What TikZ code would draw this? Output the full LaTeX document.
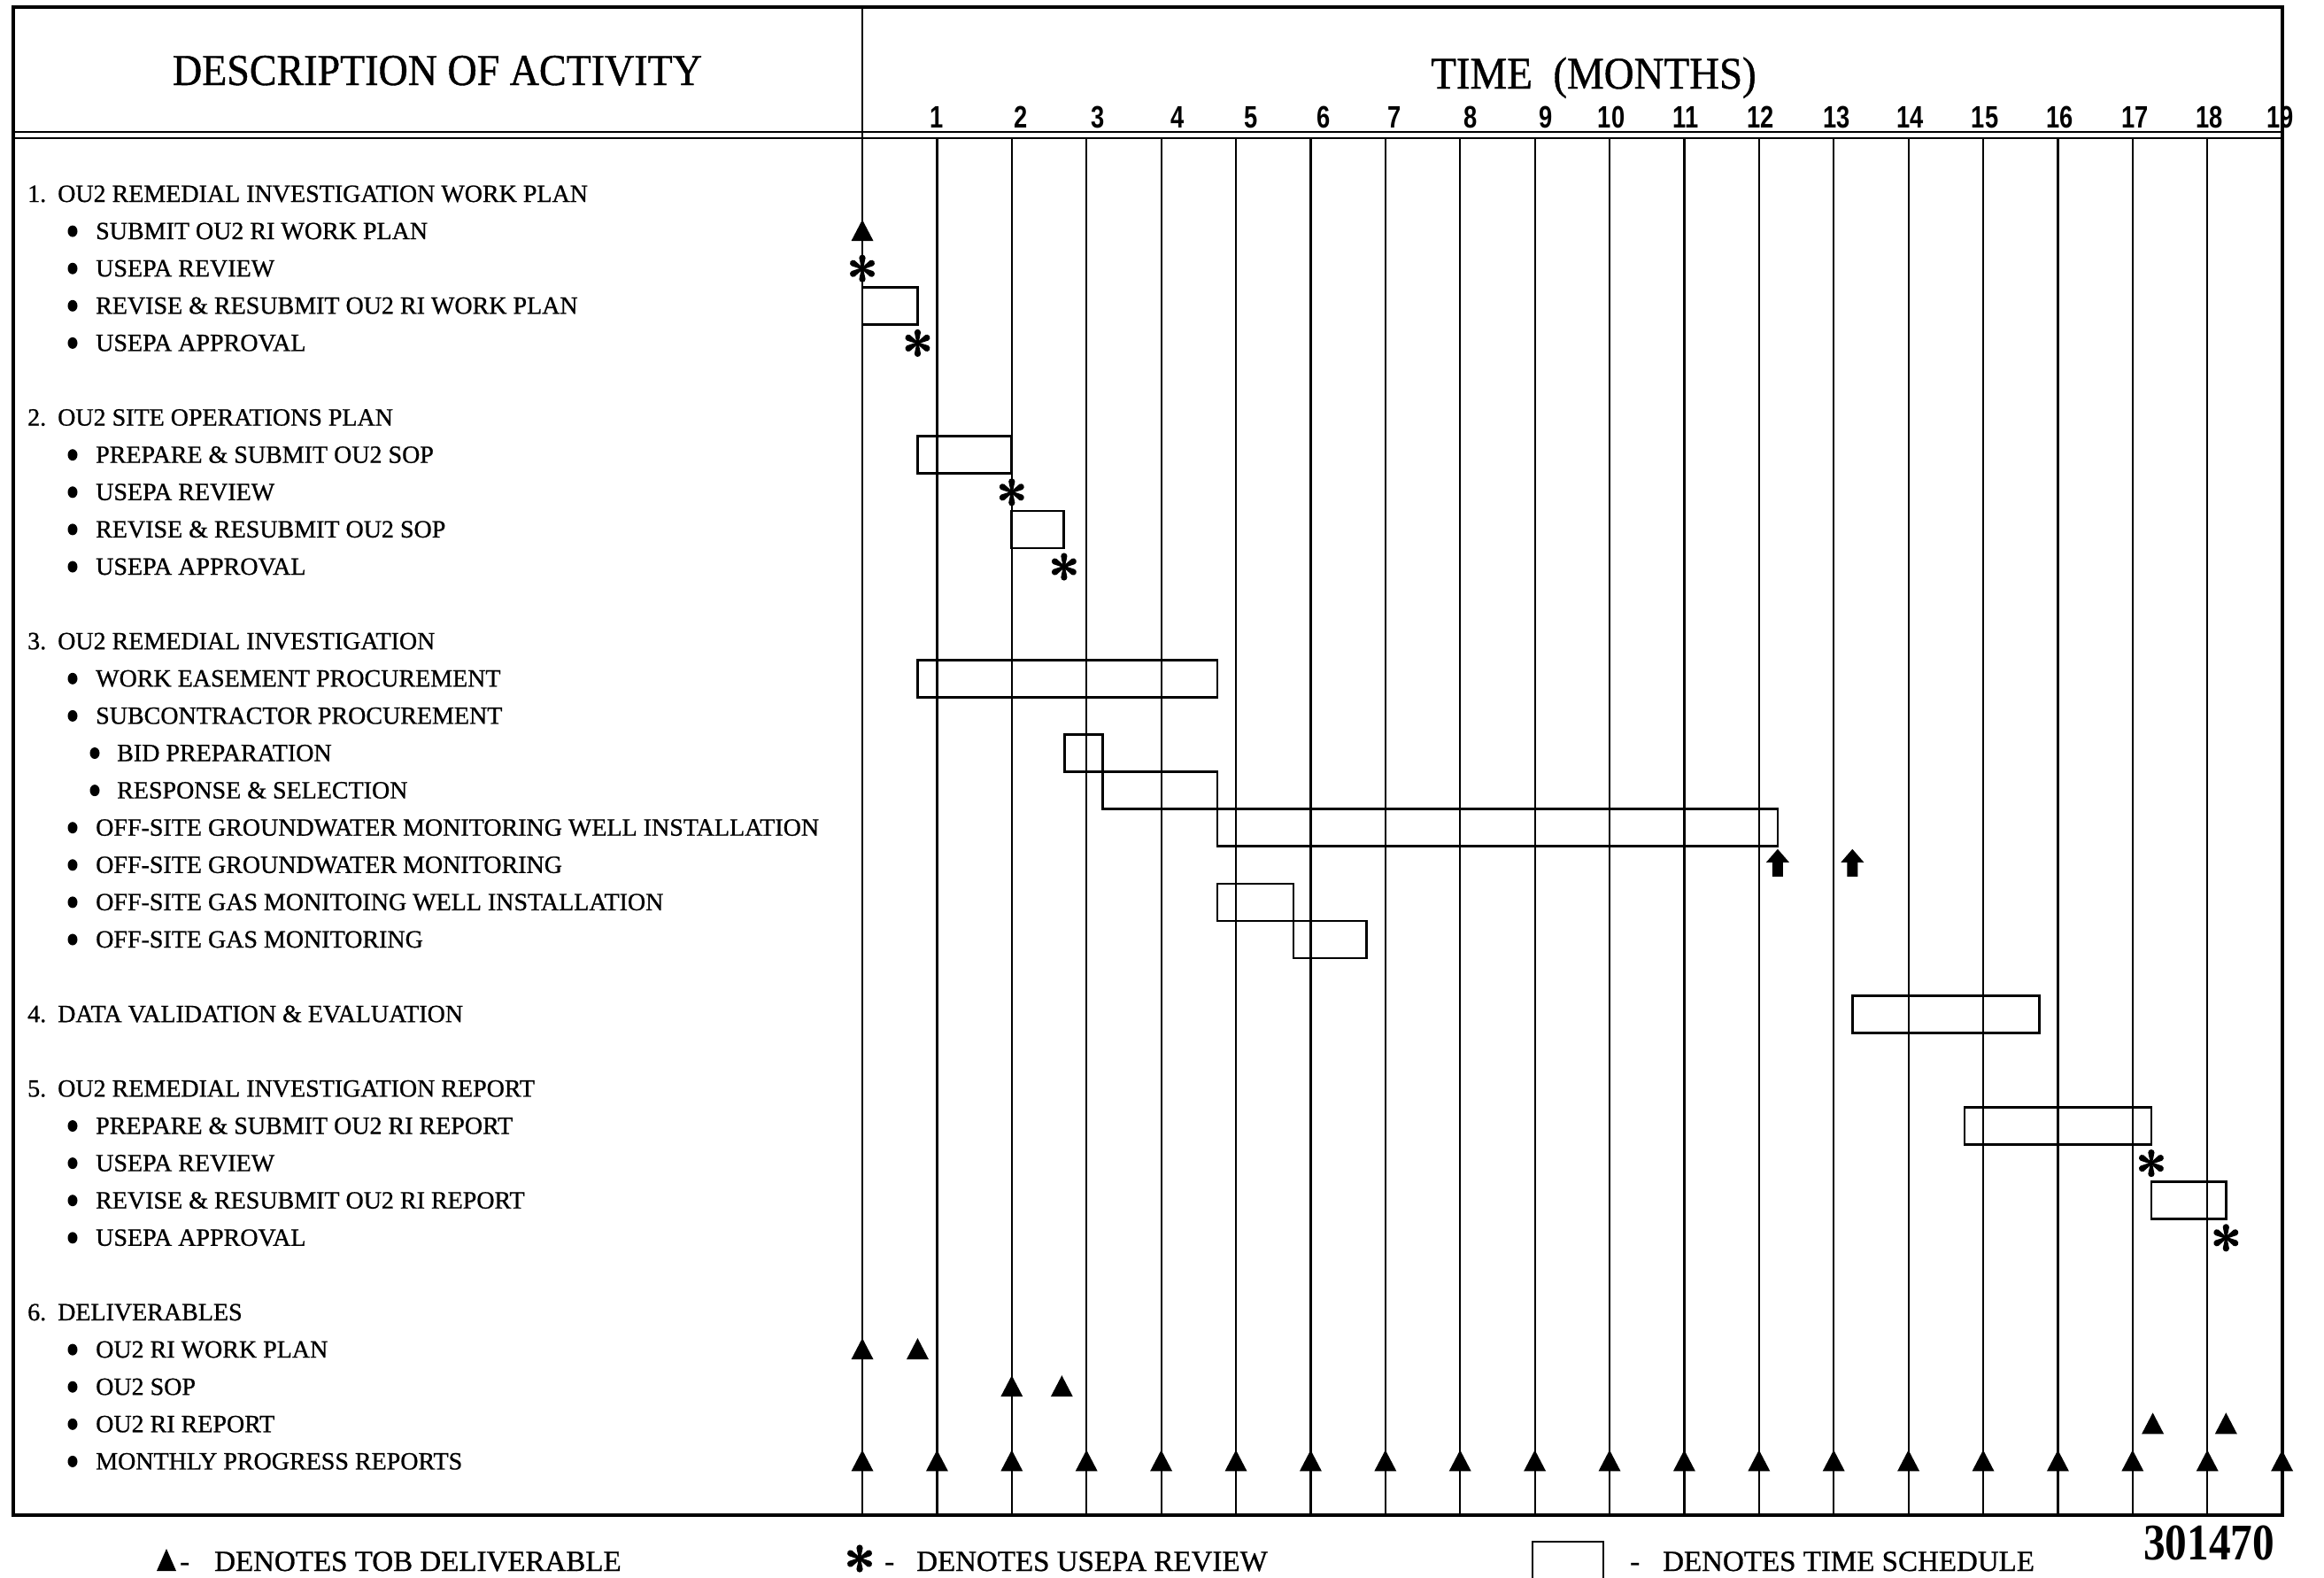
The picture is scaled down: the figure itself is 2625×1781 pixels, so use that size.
\documentclass[tikz,border=0pt]{standalone}
\usepackage{fontspec}
\setmainfont{Liberation Serif}[FakeBold=0.8]
\newfontfamily\hdfont[FakeStretch=0.92,FakeBold=0.8]{Liberation Serif}
\newfontfamily\numfont[FakeStretch=0.78]{Liberation Sans}
\newfontfamily\stampfont[FakeStretch=0.85]{Liberation Serif}
\newcommand\MX[1]{(974+84.4*(#1))}
\newcommand\RY[1]{(219+42.1*(#1))}
\newcommand\gbar[3]{\draw[bar] ({\MX{#1}},{\RY{#3}-21}) rectangle ({\MX{#2}},{\RY{#3}+21});}
\newcommand\dlv[2]{\fill ({\MX{#1}-12.5},{\RY{#2}+11}) -- ({\MX{#1}},{\RY{#2}-13}) -- ({\MX{#1}+12.5},{\RY{#2}+11}) -- cycle;}
\newcommand\starmark[2]{\begin{scope}[shift={(#1,#2)}]
  \foreach \aa in {30,90,...,330} {\fill[rotate=\aa] (0,-1.1) -- (12,-3.6) arc[start angle=-90,end angle=90,radius=3.6] -- (0,1.1) -- cycle;}
  \fill (0,0) circle (2.2);
\end{scope}}
\newcommand\rvw[2]{\starmark{{\MX{#1}}}{{\RY{#2}}}}
\newcommand\uparr[2]{\fill ({\MX{#1}-6},{\RY{#2}+13}) -- ({\MX{#1}-6},{\RY{#2}-3}) -- ({\MX{#1}-13},{\RY{#2}-3}) -- ({\MX{#1}},{\RY{#2}-18}) -- ({\MX{#1}+13},{\RY{#2}-3}) -- ({\MX{#1}+6},{\RY{#2}-3}) -- ({\MX{#1}+6},{\RY{#2}+13}) -- cycle;}
\begin{document}
\begin{tikzpicture}[x=1pt,y=-1pt,
  grid/.style={line width=2.2pt},
  frame/.style={line width=3.6pt},
  bar/.style={draw,line width=2.8pt},
  lbl/.style={anchor=base west,inner sep=0pt,font=\fontsize{28}{30}\selectfont},
  leg/.style={anchor=base west,inner sep=0pt,font=\fontsize{33}{36}\selectfont},
  mnum/.style={anchor=base,inner sep=0pt,font=\numfont\bfseries\fontsize{35}{37}\selectfont}]
\useasboundingbox (0,0) rectangle (2625,1781);
% grid
\foreach \k in {1,...,18} \draw[grid] ({\MX{\k}},156) -- ({\MX{\k}},1711);
\draw[line width=2.6pt] (974,8) -- (974,1711);
\draw[frame] (15,8) rectangle (2578,1711);
\draw[line width=2.6pt] (15,149) -- (2578,149);
\draw[line width=2.6pt] (15,156) -- (2578,156);
% headers
\node[anchor=base,inner sep=0pt,font=\hdfont\fontsize{50}{55}\selectfont] (hdesc) at (494,96) {DESCRIPTION OF ACTIVITY};
\node[anchor=base,inner sep=0pt,font=\hdfont\fontsize{51}{55}\selectfont] (htime) at (1800,100) {TIME~~(MONTHS)};
\foreach \k/\o in {1/0,2/10,3/13,4/18,5/17,6/15,7/10,8/12,9/12,10/2,11/2,12/2,13/3,14/2,15/2,16/2,17/3,18/2,19/-2}
  \node[mnum] (m\k) at ({\MX{\k}+\o},144) {\k};
% section headings
\foreach \rw/\nn/\txt in {0/1/{OU2 REMEDIAL INVESTIGATION WORK PLAN},6/2/{OU2 SITE OPERATIONS PLAN},12/3/{OU2 REMEDIAL INVESTIGATION},22/4/{DATA VALIDATION \& EVALUATION},24/5/{OU2 REMEDIAL INVESTIGATION REPORT},30/6/{DELIVERABLES}}{
  \node[lbl] (n\rw) at (31,{\RY{\rw}+9}) {\nn.};
  \node[lbl] (h\rw) at (65,{\RY{\rw}+9}) {\txt};
}
% bullet items
\foreach \rw/\txt in {1/{SUBMIT OU2 RI WORK PLAN},2/{USEPA REVIEW},3/{REVISE \& RESUBMIT OU2 RI WORK PLAN},4/{USEPA APPROVAL},
  7/{PREPARE \& SUBMIT OU2 SOP},8/{USEPA REVIEW},9/{REVISE \& RESUBMIT OU2 SOP},10/{USEPA APPROVAL},
  13/{WORK EASEMENT PROCUREMENT},14/{SUBCONTRACTOR PROCUREMENT},
  17/{OFF-SITE GROUNDWATER MONITORING WELL INSTALLATION},18/{OFF-SITE GROUNDWATER MONITORING},
  19/{OFF-SITE GAS MONITOING WELL INSTALLATION},20/{OFF-SITE GAS MONITORING},
  25/{PREPARE \& SUBMIT OU2 RI REPORT},26/{USEPA REVIEW},27/{REVISE \& RESUBMIT OU2 RI REPORT},28/{USEPA APPROVAL},
  31/{OU2 RI WORK PLAN},32/{OU2 SOP},33/{OU2 RI REPORT},34/{MONTHLY PROGRESS REPORTS}}{
  \fill (82,{\RY{\rw}}) ellipse [x radius=5.5,y radius=6.5];
  \node[lbl] (b\rw) at (108,{\RY{\rw}+9}) {\txt};
}
\foreach \rw/\txt in {15/{BID PREPARATION},16/{RESPONSE \& SELECTION}}{
  \fill (107,{\RY{\rw}}) ellipse [x radius=5.5,y radius=6.5];
  \node[lbl] (b\rw) at (132,{\RY{\rw}+9}) {\txt};
}
% bars
\gbar{0}{0.74}{3}
\gbar{0.74}{2}{7}
\gbar{2}{2.7}{9}
\gbar{0.74}{4.75}{13}
\gbar{2.71}{3.22}{15}
\gbar{3.22}{4.75}{16}
\gbar{4.75}{12.25}{17}
\gbar{4.75}{5.77}{19}
\gbar{5.77}{6.75}{20}
\gbar{13.25}{15.75}{22}
\gbar{14.75}{17.25}{25}
\gbar{17.25}{18.25}{27}
% reviews
\rvw{0}{2}
\rvw{0.74}{4}
\rvw{2}{8}
\rvw{2.7}{10}
\rvw{17.25}{26}
\rvw{18.25}{28}
% deliverables
\dlv{0}{1}
\dlv{0}{31}
\dlv{0.74}{31}
\dlv{2}{32}
\dlv{2.67}{32}
\dlv{17.27}{33}
\dlv{18.25}{33}
\foreach \k in {0,...,19} {\dlv{\k}{34}}
% arrows
\uparr{12.25}{18}
\uparr{13.25}{18}
% legend
\fill (177,1774) -- (188,1749) -- (199,1774) -- cycle;
\node[leg] (leg1) at (203,1774) {-\hspace{28pt}DENOTES TOB DELIVERABLE};
\starmark{971}{1760}
\node[leg] (leg2) at (999,1774) {-\hspace{25pt}DENOTES USEPA REVIEW};
\draw[line width=2.8pt] (1731,1800) -- (1731,1741) -- (1811,1741) -- (1811,1800);
\node[leg] (leg3) at (1841,1774) {-\hspace{26pt}DENOTES TIME SCHEDULE};
\node[anchor=base west,inner sep=0pt,font=\stampfont\bfseries\fontsize{58}{60}\selectfont] (stamp) at (2421,1761) {301470};
\end{tikzpicture}
\end{document}
